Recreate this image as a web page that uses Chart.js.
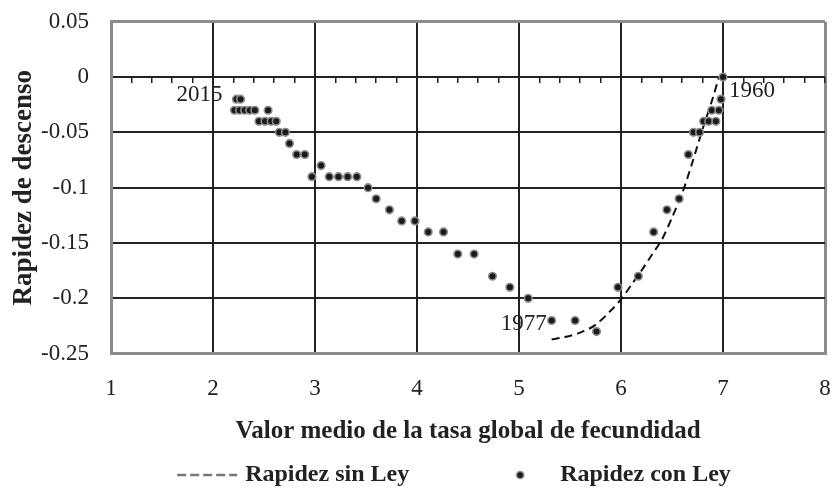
<!DOCTYPE html>
<html>
<head>
<meta charset="utf-8">
<script src="https://cdn.jsdelivr.net/npm/chart.js@4.4.0/dist/chart.umd.min.js"></script>
<style>
  html, body { margin: 0; padding: 0; background: #fff; }
  #chart { display: block; }
</style>
</head>
<body>
<canvas id="chart" width="832" height="487"></canvas>
<script>
// Rapidez con Ley (puntos observados)
const conX = [2.23, 2.27, 2.21, 2.26, 2.31, 2.36, 2.41, 2.54, 2.45, 2.51, 2.57, 2.62, 2.65, 2.71, 2.75,
  2.82, 2.90, 2.97, 3.06, 3.14, 3.23, 3.32, 3.41, 3.52, 3.60, 3.73, 3.85, 3.98, 4.11, 4.26, 4.40,
  4.56, 4.74, 4.91, 5.09, 5.32, 5.55, 5.76, 5.97, 6.17, 6.32, 6.45, 6.57, 6.66, 6.71, 6.77, 6.81,
  6.86, 6.93, 6.89, 6.96, 6.98, 7.00];
const conY = [-0.02, -0.02, -0.03, -0.03, -0.03, -0.03, -0.03, -0.03, -0.04, -0.04, -0.04, -0.04, -0.05, -0.05, -0.06,
  -0.07, -0.07, -0.09, -0.08, -0.09, -0.09, -0.09, -0.09, -0.10, -0.11, -0.12, -0.13, -0.13, -0.14, -0.14, -0.16,
  -0.16, -0.18, -0.19, -0.20, -0.22, -0.22, -0.23, -0.19, -0.18, -0.14, -0.12, -0.11, -0.07, -0.05, -0.05, -0.04,
  -0.04, -0.04, -0.03, -0.03, -0.02, 0];

// Rapidez sin Ley (curva)
const sinX = [5.32, 5.45, 5.6, 5.75, 5.9, 6.0, 6.1, 6.2, 6.3, 6.4, 6.5, 6.6, 6.7, 6.8, 6.9, 6.96];
const sinY = [-0.237, -0.235, -0.231, -0.224, -0.211, -0.201, -0.188, -0.175, -0.161, -0.147, -0.127, -0.105, -0.077, -0.047, -0.019, 0];

const xTicks = [1, 2, 3, 4, 5, 6, 7, 8];
const yTicks = [-0.25, -0.2, -0.15, -0.1, -0.05, 0, 0.05];

// etiquetas de años
const yearText = ['2015', '1977', '1960'];
const yearX = [2.23, 5.32, 7.0];
const yearY = [-0.02, -0.22, 0];

const SERIF = '"Liberation Serif", "Times New Roman", serif';
const INK = '#222';
const EDGE = '#8c8c8c';
const BOX_W = 131;

function legendDash() {
  const half = BOX_W / 2 + 6;
  const c = document.createElement('canvas');
  c.width = half * 2; c.height = 8;
  const g = c.getContext('2d');
  g.strokeStyle = '#777';
  g.lineWidth = 2.5;
  g.setLineDash([9, 4]);
  g.beginPath();
  g.moveTo(half + BOX_W / 2 - 56, 4);
  g.lineTo(half + BOX_W / 2 + 4, 4);
  g.stroke();
  return c;
}

function legendDot() {
  const half = BOX_W / 2 - 20;
  const c = document.createElement('canvas');
  c.width = half * 2; c.height = 12;
  const g = c.getContext('2d');
  g.fillStyle = '#1a1a1a';
  g.strokeStyle = '#8c8c8c';
  g.lineWidth = 1.5;
  g.beginPath();
  g.arc(half + BOX_W / 2 - 28, 6, 3.6, 0, Math.PI * 2);
  g.fill();
  g.stroke();
  return c;
}

const edgeX = v => v === xTicks[0] || v === xTicks[xTicks.length - 1];
const edgeY = v => v === yTicks[0] || v === yTicks[yTicks.length - 1];

const yearLabels = {
  id: 'yearLabels',
  afterDatasetsDraw(chart) {
    const {ctx, scales: {x, y}} = chart;
    const offs = [[-14, -4, 'right'], [-5, 3, 'right'], [6, 14, 'left']];
    ctx.save();
    ctx.font = '23px ' + SERIF;
    ctx.fillStyle = INK;
    ctx.textBaseline = 'middle';
    yearText.forEach((t, i) => {
      ctx.textAlign = offs[i][2];
      ctx.fillText(t, x.getPixelForValue(yearX[i]) + offs[i][0], y.getPixelForValue(yearY[i]) + offs[i][1]);
    });
    ctx.restore();
  }
};

const data = {
  datasets: [{
    label: 'Rapidez con Ley',
    data: conX.map((v, i) => ({x: v, y: conY[i]})),
    backgroundColor: '#1a1a1a',
    borderColor: EDGE,
    pointRadius: 3.8,
    pointBorderWidth: 1.6,
    order: 1
  }, {
    label: 'Rapidez sin Ley',
    data: sinX.map((v, i) => ({x: v, y: sinY[i]})),
    showLine: true,
    borderColor: '#111',
    borderWidth: 2,
    borderDash: [8, 5],
    pointRadius: 0,
    tension: 0.3,
    order: 2
  }]
};

const config = {
  type: 'scatter',
  data: data,
  plugins: [yearLabels],
  options: {
    responsive: false,
    animation: false,
    devicePixelRatio: 1,
    layout: { padding: { left: 8, right: 7, top: 21.7, bottom: -10 } },
    scales: {
      x: {
        type: 'linear',
        min: 1,
        max: 8,
        afterBuildTicks: s => { s.ticks = xTicks.map(v => ({value: v})); },
        afterFit: s => { s.paddingLeft = 0; s.paddingRight = 0; s.height = 101.3; },
        ticks: { padding: 21, font: {family: SERIF, size: 23}, color: INK, maxRotation: 0, autoSkip: false, callback: v => String(v) },
        grid: {
          drawTicks: false,
          color: c => edgeX(c.tick.value) ? EDGE : INK,
          lineWidth: c => edgeX(c.tick.value) ? 3 : 2
        },
        border: { color: EDGE, width: 3 },
        title: {
          display: true,
          text: 'Valor medio de la tasa global de fecundidad',
          font: {family: SERIF, size: 25, weight: 'bold'},
          color: INK,
          padding: {top: 13.3, bottom: 8.6}
        }
      },
      // marcas menores sobre el eje y = 0
      x2: {
        type: 'linear',
        axis: 'x',
        position: {y: 0},
        min: 1,
        max: 8,
        afterFit: s => { s.height = 0; s.paddingLeft = 0; s.paddingRight = 0; },
        ticks: { display: false, stepSize: 0.2, autoSkip: false },
        grid: { drawOnChartArea: false, drawTicks: true, tickLength: 6, color: INK, lineWidth: 1.5 },
        border: { display: false }
      },
      y: {
        min: -0.25,
        max: 0.05,
        afterBuildTicks: s => { s.ticks = yTicks.map(v => ({value: v})); },
        afterFit: s => { s.width = 103; s.paddingTop = 0; s.paddingBottom = 0; },
        ticks: { padding: 22, font: {family: SERIF, size: 23}, color: INK, callback: v => String(v) },
        grid: {
          drawTicks: false,
          color: c => edgeY(c.tick.value) ? EDGE : INK,
          lineWidth: c => edgeY(c.tick.value) ? 3 : 2
        },
        border: { color: EDGE, width: 3 },
        title: {
          display: true,
          text: 'Rapidez de descenso',
          font: {family: SERIF, size: 27, weight: 'bold'},
          color: INK,
          padding: {top: 0, bottom: 0}
        }
      }
    },
    plugins: {
      tooltip: { enabled: false },
      legend: {
        position: 'bottom',
        labels: {
          usePointStyle: true,
          pointStyleWidth: BOX_W,
          padding: 8,
          color: INK,
          font: {family: SERIF, size: 24, weight: 'bold'},
          generateLabels: () => [
            {text: 'Rapidez sin Ley', pointStyle: legendDash(), fillStyle: '#777', strokeStyle: '#777', lineWidth: 0, hidden: false, datasetIndex: 1, fontColor: INK},
            {text: 'Rapidez con Ley', pointStyle: legendDot(), fillStyle: '#1a1a1a', strokeStyle: EDGE, lineWidth: 0, hidden: false, datasetIndex: 0, fontColor: INK}
          ]
        }
      }
    }
  }
};

const chart = new Chart(document.getElementById('chart'), config);
</script>
</body>
</html>
